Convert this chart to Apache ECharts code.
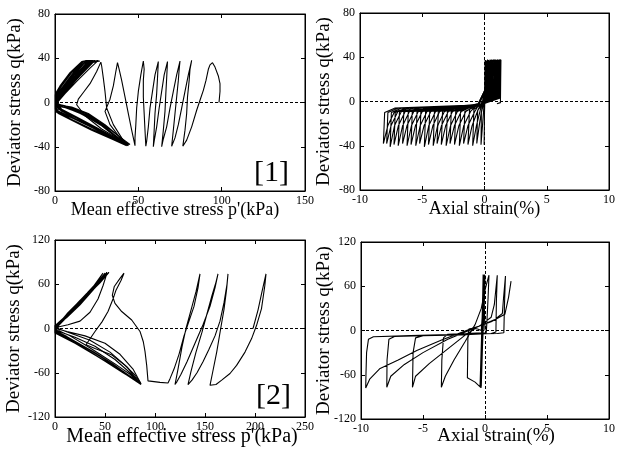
<!DOCTYPE html>
<html><head><meta charset="utf-8">
<script src="https://cdn.jsdelivr.net/npm/echarts@6/dist/echarts.min.js"></script>
<style>html,body{margin:0;padding:0;background:#fff}#c{width:618px;height:450px}</style>
</head><body><div id="c"></div>
<script>
// ---- tick definitions ----
const pTicks1 = [0, 50, 100, 150];
const qTicks1 = [-80, -40, 0, 40, 80];
const eTicks = [-10, -5, 0, 5, 10];
const pTicks2 = [0, 50, 100, 150, 200, 250];
const qTicks2 = [-120, -60, 0, 60, 120];

// ---- [1] effective stress path (p', q) ----
const stressPath1a = [
[98.4,0],[99,10],[99,17],[98,24],[96,32],[94.5,36],[93,34],[92,30],[90.6,20],[89,11],[87,2],[85,-7],[82,-22],[79,-34],[76.7,-39.5],
[78,-25],[79,-10],[79.5,5],[80.5,20],[81,30],[82,38],
[80,25],[78,10],[76,-5],[74,-20],[72,-32],[70,-39.5],
[71,-25],[72,-10],[73,5],[74,20],[74.5,30],[75,37.5],
[73,25],[71,10],[69,-5],[67,-22],[65,-33],[64,-40],
[65,-25],[66,-8],[66.5,8],[67,22],[67.5,37],
[65.5,25],[64,10],[62.5,-5],[61,-22],[59.5,-35],[59,-40],
[59.5,-25],[60,-10],[61,8],[61.5,22],[62,37],
[60,25],[58.5,10],[57,-5],[56,-22],[55,-35],[54.5,-39.5],
[54,-25],[53.5,-10],[53,5],[53,20],[53.5,30],[53,37.5],
[51.5,25],[50,10],[49,-5],[48.5,-20],[48,-32],[48,-39],
[46,-25],[44,-10],[42,5],[40,20],[38.5,30],[37.5,36],
[36.5,28],[35,15],[33,3],[30,-8],[33,-20],[38,-30],[43,-38],
[40,-32],[35,-20],[31,-5],[30,10],[29,22],[28,33],[27.5,36.5],
[25,28],[21,17],[17,9],[14,3],[13,-2],[18,-12],[28,-24],[38,-33],[44,-38.5]
];
const stressPath1b = [
[44,-38.5],[35,-31],[24,-22],[13,-14],[4,-8],[1,-4],[2,1],[6,9],[13,21],[20,33],[24,38],[22,35],[15,24],[8,13],[3,4],[1,-1],[8,-4],[18,-10],[29,-20],[38,-30],[43,-38],
[33,-31],[20,-21],[9,-13],[1,-9],[0.5,-3],[0.5,5],[7,15],[14,27],[21,37],[26,38],[21,31],[13,19],[6,8],[2,1],[2,-2],[10,-4],[20,-10],[30,-20],[38,-30],[44,-39],
[34,-32],[22,-24],[11,-16],[3,-10],[0.3,-6],[0.5,4],[5,13],[11,25],[18,36],[22,38],[18,31],[10,17],[4,6],[1,-1],[5,-4],[14,-9],[24,-17],[34,-27],[42,-37],
[32,-30],[19,-20],[8,-12],[1,-7],[0.2,1],[0.5,7],[4,15],[10,27],[17,37],[21,38],[17,31],[9,18],[3,8],[0.5,0],[4,-6],[13,-13],[24,-22],[35,-31],[44,-38],
[34,-31],[21,-21],[10,-13],[2,-8],[0.3,-4],[0.3,8],[3,15],[9,27],[16,37],[20,38],[15,29],[8,17],[2,7],[0.3,-1],[6,-3],[16,-8],[27,-17],[37,-29],[45,-38],
[36,-33],[23,-23],[12,-15],[3,-9],[0.2,-5],[0.2,5],[5,15],[11,27],[17,37],[23,38],[19,32],[11,20],[4,8],[0.5,-1],[3,-6],[12,-13],[23,-22],[34,-31],[43,-37],
[33,-31],[20,-21],[9,-13],[1,-8],[0.2,0],[0.2,7],[4,16],[10,28],[16,37],[19,38],[14,29],[7,17],[2,7],[0.2,-2],[8,-5],[18,-11],[29,-21],[38,-32],[42,-38],
[34,-31],[22,-22],[11,-14],[2,-9],[0.2,-3],[0.2,4],[5,12],[12,24],[19,36],[24,38],[20,32],[12,20],[5,9],[1,1],[3,-3],[11,-7],[22,-14],[32,-25],[41,-35],[44,-38],
[35,-32],[23,-23],[12,-15],[3,-10],[0.2,-6],[0.2,6],[4,15],[10,27],[16,37],[22,38],[17,30],[9,18],[3,7],[0.3,-2],[4,-7],[13,-14],[25,-24],[36,-32],[43,-37],
[33,-30],[21,-20],[10,-11],[2,-6],[0.2,-1],[0.2,5],[5,14],[11,26],[18,37],[21,38],[16,30],[8,17],[2,5],[0.3,-3],[7,-5],[17,-11],[28,-21],[38,-33],[43,-39],
[34,-33],[22,-25],[10,-16],[2,-10],[0.3,-7],[0.3,3],[6,11],[14,23],[22,36],[27,37.5]
];

// ---- [1] stress-strain (axial strain %, q) ----
const strainPath1a = [
[0,0],[0.02,20],[0.05,37.5],
[0.03,3],[0.0,-10],[-0.03,-39],[0.0,-10],[0.02,15],[0.08,37.5],
[0.05,3],[-0.1,-3],[-0.25,-10],[-0.28,-39],[-0.15,-20],[-0.05,-5],[0.05,10],[0.15,37],
[0.1,3],[-0.2,-3],[-0.55,-8],[-0.62,-38],[-0.4,-20],[-0.2,-6],[0.0,5],[0.1,20],[0.25,38],
[0.18,3],[-0.3,-3],[-0.85,-7],[-0.95,-40],[-0.65,-22],[-0.3,-6],[-0.05,4],[0.12,20],[0.32,37.5],
[0.25,3],[-0.3,-2.5],[-1.2,-7],[-1.33,-39],[-1.0,-22],[-0.5,-7],[-0.15,1],[0.1,15],[0.38,37],
[0.3,3],[-0.3,-2.5],[-0.8,-5],[-1.58,-9],[-1.68,-38],[-1.33,-22],[-0.78,-9],[-0.4,-2],[0.1,12],[0.45,38],
[0.37,3],[-0.3,-2.5],[-1.12,-5],[-1.92,-9],[-2.02,-40],[-1.67,-22],[-1.12,-9],[-0.5,-2],[0.1,12],[0.5,37.5],
[0.42,3],[-0.3,-2.5],[-1.5,-5],[-2.31,-9],[-2.41,-39],[-2.06,-22],[-1.5,-9],[-0.5,-2],[0.1,12],[0.56,37],
[0.48,3],[-0.3,-2.5],[-1.87,-5],[-2.67,-9],[-2.77,-38],[-2.42,-22],[-1.87,-9],[-0.5,-2],[0.1,12],[0.6,38],
[0.52,3],[-0.3,-2.5],[-2.18,-5],[-2.98,-9],[-3.08,-40],[-2.73,-22],[-2.18,-9],[-0.5,-2],[0.1,12],[0.66,37.5],
[0.58,3],[-0.3,-3],[-2.57,-5],[-3.37,-9],[-3.47,-39],[-3.12,-22],[-2.57,-9],[-0.5,-2],[0.1,12],[0.72,37],
[0.64,3],[-0.3,-3],[-2.91,-5],[-3.71,-9],[-3.81,-38],[-3.46,-22],[-2.91,-9],[-0.5,-2],[0.1,12],[0.77,38]
];
const strainPath1b = [
[0.77,38],
[0.69,3],[-0.3,-3],[-3.22,-5],[-4.02,-9],[-4.12,-40],[-3.77,-22],[-3.22,-9],[-0.5,-2],[0.1,12],[0.82,37.5],
[0.74,3],[-0.3,-3],[-3.6,-5.5],[-4.4,-9],[-4.5,-39],[-4.15,-22],[-3.6,-9],[-0.5,-2],[0.1,12],[0.87,37],
[0.79,3],[-0.3,-3],[-3.93,-5.5],[-4.73,-9],[-4.83,-41],[-4.48,-22],[-3.93,-9],[-0.5,-2],[0.1,12],[0.92,38],
[0.84,3],[-0.3,-3],[-4.31,-5.5],[-5.11,-9],[-5.21,-38],[-4.86,-22],[-4.31,-9],[-0.5,-2.5],[0.1,12],[0.97,37.5],
[0.89,3],[-0.3,-3],[-4.62,-5.5],[-5.42,-9],[-5.52,-40],[-5.17,-22],[-4.62,-9],[-0.5,-2.5],[0.1,12],[1.02,37],
[0.94,3],[-0.3,-3],[-5.0,-5.5],[-5.8,-9],[-5.9,-39],[-5.55,-22],[-5.0,-9],[-0.5,-2.5],[0.1,12],[1.07,38],
[0.99,3],[-0.3,-3],[-5.32,-6],[-6.12,-9],[-6.22,-40],[-5.87,-22],[-5.32,-9],[-0.5,-2.5],[0.1,12],[1.12,37.5],
[1.04,3],[-0.3,-3],[-5.68,-6],[-6.48,-9],[-6.58,-38],[-6.23,-22],[-5.68,-9],[-0.5,-2.5],[0.1,12],[1.16,37],
[1.08,3],[-0.3,-3],[-6.03,-6],[-6.83,-9],[-6.93,-40],[-6.58,-22],[-6.03,-9],[-0.5,-2.5],[0.1,12],[1.2,38],
[1.12,3],[-0.3,-3],[-6.37,-6],[-7.17,-10],[-7.27,-39],[-6.92,-22],[-6.37,-9],[-0.5,-2.5],[0.1,12],[1.24,37.5],
[1.16,3],[-0.3,-3],[-6.68,-6],[-7.48,-10],[-7.58,-41],[-7.23,-22],[-6.68,-9],[-0.5,-2.5],[0.1,12],[1.27,37],
[1.19,3],[-0.3,-3],[-6.96,-6],[-7.76,-10],[-7.86,-38],[-7.51,-22],[-6.96,-9],[-0.5,-2.5],[0.1,12],[1.3,38],
[1.22,3],[-0.3,-3],[-7.22,-6],[-8.02,-10],[-8.12,-38],[-7.77,-22],[-7.22,-9],[-0.5,-2.5],[0.1,12],[1.32,37.5],[1.3,20],[1.28,-1],[1.0,-2]
];

// ---- [2] effective stress path (p', q) ----
const stressPath2a = [
[198,0],[203,25],[207,50],[211,74],[209.8,58],[206.5,27],[201.5,4],[196.5,-14],[190,-32],[181.6,-50],[175,-61],[166.7,-70],[161,-76],[155,-77],
[157.7,-59],[161.7,-32],[165.7,0],[169,26],[171.6,53],[173,74],
[172,60],[169,35],[165,10],[160,-10],[154,-28],[148,-45],[142,-60],[137,-70],[133,-76],
[136,-58],[141,-32],[147,-5],[152,20],[157,45],[161,63],[163,74],
[160,55],[155,30],[148,5],[140,-20],[132,-45],[126,-62],[122,-72],[120,-76],
[123,-55],[127,-25],[131,0],[136,25],[141,50],[145,74],
[143,55],[139,30],[134,10],[129,-10],[124,-35],[119,-55],[115,-68],[113,-74],
[105,-73],[93,-71],[91.7,-50],[90,-31],[88.3,-18],[85,-4],[76.7,11.5],[66.7,23],[60,34],[57.3,45],[59.3,57],[65,68],[69,75],
[66,65],[61,52],[58,40],[53,23],[47,9],[40,-4],[33,-18],[31,-22],[40,-27],[57,-36],[70,-50],[80,-63],[86,-75]
];
const stressPath2b = [
[86,-75],[75,-62],[60,-48],[45,-35],[30,-22],[15,-10],[4,-3],[3,2],[13,5],[25,10],[35,22],[43,40],[48,58],[52,75],[50,70],[40,55],[28,38],[15,20],[5,6],[1,0],[12,-4],[30,-10],[50,-20],[65,-35],[78,-55],[86,-75],
[70,-60],[50,-42],[30,-25],[12,-11],[2,-4],[1,3],[12,15],[25,32],[38,52],[50,75],[45,67],[32,48],[18,28],[6,10],[1,1],[15,-6],[35,-16],[55,-32],[72,-52],[85,-74],
[68,-60],[45,-40],[22,-20],[5,-6],[0,0],[10,14],[22,30],[35,50],[52,76],[46,68],[30,45],[15,24],[4,7],[0,-2],[20,-12],[40,-24],[60,-42],[75,-60],[86,-76],
[65,-57],[40,-36],[18,-17],[3,-6],[0,2],[12,18],[26,38],[40,58],[53,75],[44,64],[28,42],[12,20],[2,4],[0,-4],[18,-16],[38,-31],[58,-48],[74,-64],[86,-75],
[60,-52],[35,-32],[15,-15],[2,-6],[0,3],[14,20],[30,42],[45,62],[54,76],[42,60],[25,38],[10,16],[1,2],[0,-6],[20,-20],[45,-40],[68,-58],[85,-75],
[55,-48],[30,-28],[10,-12],[0,-5],[0,4],[15,22],[32,45],[48,75]
];

// ---- [2] stress-strain (axial strain %, q) ----
const strainPath2a = [
[0,0],[-0.05,30],[-0.08,60],[-0.1,75],[-0.2,20],[-0.3,-30],[-0.35,-76],[-0.25,-20],[-0.15,30],[-0.05,75],[-0.2,10],[-0.3,-40],[-0.4,-77],[-0.3,-30],[-0.2,20],[-0.12,74],
[-0.25,0],[-0.35,-50],[-0.3,-76],[-0.2,-20],[-0.1,40],[0.0,75],[-0.15,20],[-0.3,-50],[-0.38,-77],[-0.25,-10],[-0.1,50],[-0.05,76],[-0.2,0],[-0.35,-76],[-0.2,-20],[-0.05,40],[0.0,74],
[-0.1,20],[-0.3,-40],[-0.32,-78],[-0.2,-10],[-0.08,75],[-0.2,30],[-0.28,-20],[-0.4,-76],[-0.28,-10],[-0.18,45],[-0.15,76],
[-0.22,20],[-0.3,0],[-0.6,2],[-1.0,3],[-1.3,2],[-1.38,-10],[-1.42,-64],[-0.8,-70],[-0.35,-77],[-0.28,-40],[-0.2,0],[-0.12,40],[-0.05,75]
];
const strainPath2b = [
[-0.05,75],[-0.15,20],[-0.25,-3],[-1.5,-4],[-3.0,-5],[-3.35,-10],[-3.48,-40],[-3.52,-77],[-3.2,-62],[-2.5,-40],[-1.6,-15],[-0.8,8],[-0.3,30],[0.0,55],[0.32,75],
[0.25,45],[0.15,10],[0.1,-3],[-1,-5],[-3,-6],[-5,-7],[-5.6,-10],[-5.8,-30],[-5.85,-77],[-5.6,-62],[-4.5,-45],[-3,-25],[-1.5,-5],[-0.3,8],[0.5,18],[0.75,35],[0.99,75],
[0.92,40],[0.9,20],[0.88,-2],[0.5,-4],[-2,-6],[-5,-7],[-7.3,-8],[-7.75,-12],[-7.9,-40],[-7.92,-77],[-7.6,-62],[-6.5,-46],[-5,-30],[-3,-12],[-1,2],[0.8,15],[1.4,23],[1.5,45],[1.65,74],
[1.58,40],[1.55,20],[1.52,-3],[1,-4],[-2,-5],[-6,-7],[-9,-8.5],[-9.4,-12],[-9.55,-30],[-9.6,-60],[-9.62,-78],[-9.3,-66],[-8.5,-52],[-7,-40],[-5.5,-27],[-3.5,-13],[-1.5,0],[0.5,12],[1.6,22],[1.9,45],[2.1,67]
];

// ---- chart ----
const FONT = 'Liberation Serif';
const grids = [
  {left:55, top:14, width:250, height:177},
  {left:360, top:13, width:250, height:177},
  {left:55, top:240, width:250, height:177},
  {left:361, top:242, width:250, height:177}
];
const axisDefs = [
  {x:pTicks1, y:qTicks1, xName:"Mean effective stress p'(kPa)", xGap:10, xFs:18, xPad:[0,10,0,0], yGap:30},
  {x:eTicks, y:qTicks1, xName:"Axial strain(%)", xGap:10, xFs:18, xPad:[0,0,0,0], yGap:26},
  {x:pTicks2, y:qTicks2, xName:"Mean effective stress p'(kPa)", xGap:10, xFs:20, xPad:[0,0,0,4], yGap:31},
  {x:eTicks, y:qTicks2, xName:"Axial strain(%)", xGap:8, xFs:19, xPad:[0,0,0,22], yGap:27}
];
const tick = {inside:true, length:4, lineStyle:{color:'#000'}};
const line = {show:true, onZero:false, lineStyle:{color:'#000', width:1}};
const lab = {color:'#000', fontFamily:FONT, fontSize:12};
const xAxes = [], yAxes = [];
axisDefs.forEach((d, i) => {
  const xr = d.x, yr = d.y;
  xAxes.push({gridIndex:i, type:'value', min:xr[0], max:xr[xr.length-1], interval:xr[1]-xr[0], position:'bottom',
    axisLine:line, axisTick:tick, splitLine:{show:false}, axisLabel:Object.assign({margin:4}, lab),
    name:d.xName, nameLocation:'middle', nameGap:d.xGap, nameMoveOverlap:false,
    nameTextStyle:{color:'#000', fontFamily:FONT, fontSize:d.xFs, padding:d.xPad}});
  yAxes.push({gridIndex:i, type:'value', min:yr[0], max:yr[yr.length-1], interval:yr[1]-yr[0], position:'left',
    axisLine:line, axisTick:tick, splitLine:{show:false}, axisLabel:Object.assign({margin:5}, lab),
    name:'Deviator stress q(kPa)', nameLocation:'middle', nameGap:d.yGap, nameRotate:90, nameMoveOverlap:false,
    nameTextStyle:{color:'#000', fontFamily:FONT, fontSize:19}});
});
axisDefs.forEach((d, i) => {
  const xr = d.x, yr = d.y;
  xAxes.push({gridIndex:i, type:'value', min:xr[0], max:xr[xr.length-1], interval:xr[1]-xr[0], position:'top',
    axisLine:line, axisTick:tick, splitLine:{show:false}, axisLabel:{show:false}});
  yAxes.push({gridIndex:i, type:'value', min:yr[0], max:yr[yr.length-1], interval:yr[1]-yr[0], position:'right',
    axisLine:line, axisTick:tick, splitLine:{show:false}, axisLabel:{show:false}});
});
const ls = {color:'#000', width:1.1};
const dashed = {color:'#000', width:1, type:[3,2]};
function ser(i, data, zeroX) {
  const s = {type:'line', xAxisIndex:i, yAxisIndex:i, data:data, showSymbol:false, symbol:'none',
    lineStyle:ls, itemStyle:{color:'#000'}, silent:true, clip:true};
  if (zeroX !== undefined) {
    const md = [{yAxis:0}];
    if (zeroX) md.push({xAxis:0});
    s.markLine = {silent:true, symbol:['none','none'], label:{show:false}, lineStyle:dashed, data:md, animation:false};
  }
  return s;
}
const chart = echarts.init(document.getElementById('c'), null, {renderer:'canvas'});
chart.setOption({
  animation:false,
  backgroundColor:'#fff',
  grid: grids.map(g => Object.assign({show:true, borderColor:'#000', borderWidth:1, backgroundColor:'transparent'}, g)),
  xAxis: xAxes, yAxis: yAxes,
  series: [
    ser(0, stressPath1a, false), ser(0, stressPath1b),
    ser(1, strainPath1a, true), ser(1, strainPath1b),
    ser(2, stressPath2a, false), ser(2, stressPath2b),
    ser(3, strainPath2a, true), ser(3, strainPath2b)
  ],
  graphic: [
    {type:'text', left:254, top:158, style:{text:'[1]', font:'30px "Liberation Serif"', fill:'#000'}},
    {type:'text', left:256, top:381, style:{text:'[2]', font:'30px "Liberation Serif"', fill:'#000'}}
  ]
});
</script></body></html>
